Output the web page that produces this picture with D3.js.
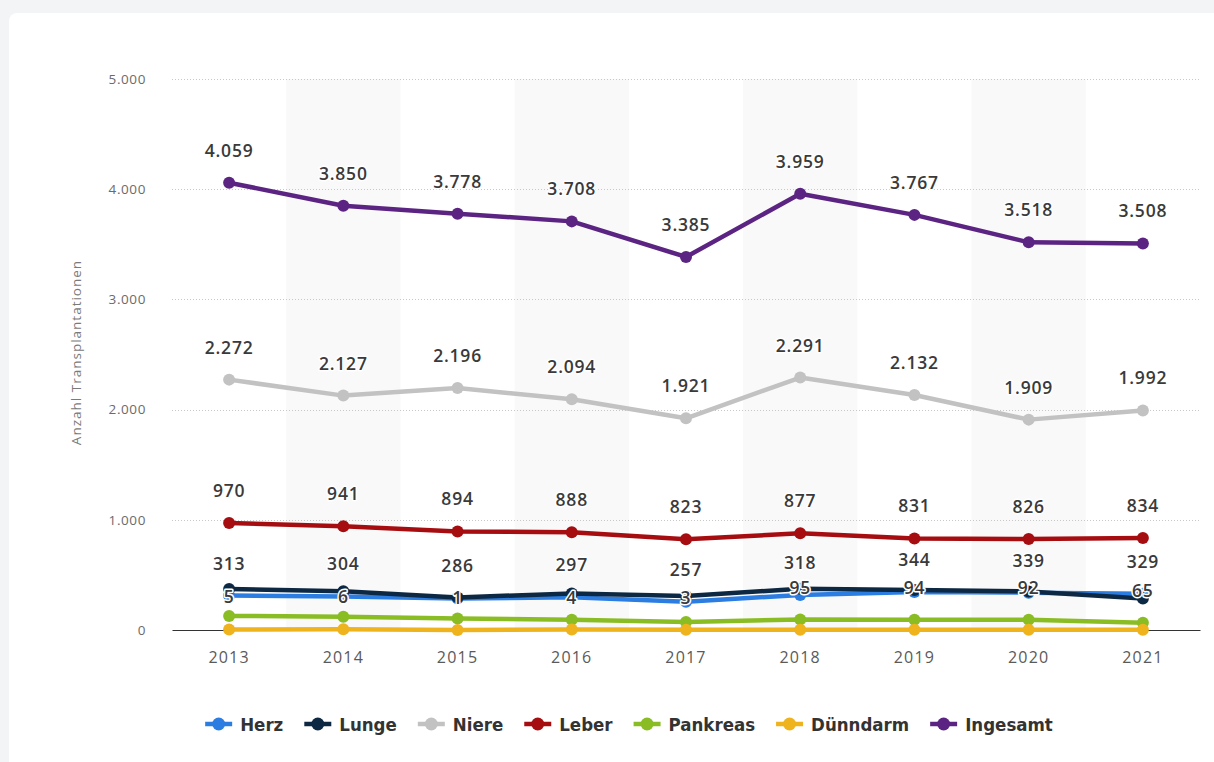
<!DOCTYPE html>
<html>
<head>
<meta charset="utf-8">
<script src="https://cdn.jsdelivr.net/npm/d3@7"></script>
<style>
  html, body { margin: 0; padding: 0; background: #f3f4f6; }
  #chart { position: absolute; left: 0; top: 0; width: 1214px; height: 762px; }
  text { font-family: "Open Sans", "DejaVu Sans", sans-serif; }
</style>
</head>
<body>
<div id="chart"></div>
<script>
// ─── data ────────────────────────────────────────────────────────────────────
const years = ["2013", "2014", "2015", "2016", "2017", "2018", "2019", "2020", "2021"];

const herz      = [313, 304, 286, 297, 257, 318, 344, 339, 329];
const lunge     = [371, 352, 296, 331, 308, 375, 364, 350, 285];
const niere     = [2272, 2127, 2196, 2094, 1921, 2291, 2132, 1909, 1992];
const leber     = [970, 941, 894, 888, 823, 877, 831, 826, 834];
const pankreas  = [128, 120, 105, 94, 73, 95, 94, 92, 65];
const duenndarm = [5, 6, 1, 4, 3, 3, 2, 2, 3];
const ingesamt  = [4059, 3850, 3778, 3708, 3385, 3959, 3767, 3518, 3508];

const yTicks = [0, 1000, 2000, 3000, 4000, 5000];

// which years carry a visible value label (the others are hidden by overlap)
const allYears = years;
const noYears = [];
const pankreasLabelYears = ["2018", "2019", "2020", "2021"];
const duenndarmLabelYears = ["2013", "2014", "2015", "2016", "2017"];

const series = [
  { name: "Herz",     values: herz,      color: "#2b7de1", labels: allYears },
  { name: "Lunge",    values: lunge,     color: "#0d2843", labels: noYears },
  { name: "Niere",    values: niere,     color: "#c2c2c2", labels: allYears },
  { name: "Leber",    values: leber,     color: "#a60d10", labels: allYears },
  { name: "Pankreas", values: pankreas,  color: "#8abd24", labels: pankreasLabelYears },
  { name: "Dünndarm", values: duenndarm, color: "#efb31d", labels: duenndarmLabelYears },
  { name: "Ingesamt", values: ingesamt,  color: "#5c2482", labels: allYears }
];

// ─── layout ─────────────────────────────────────────────────────────────────
const W = 1214, H = 762;
const plotLeft = 172, plotRight = 1200, plotTop = 79, plotBottom = 630;

const de = d3.formatLocale({ decimal: ",", thousands: ".", grouping: [3], currency: ["", " €"] });
const fmt = de.format(",d");

const svg = d3.select("#chart").append("svg")
  .attr("width", W).attr("height", H)
  .attr("viewBox", `0 0 ${W} ${H}`);

// card
svg.append("rect")
  .attr("x", 9).attr("y", 13).attr("width", W + 20).attr("height", H + 20)
  .attr("rx", 8).attr("fill", "#ffffff");

const x = d3.scaleBand().domain(years).range([plotLeft, plotRight]);
const cx = d => x(d) + x.bandwidth() / 2;
const y = d3.scaleLinear().domain([0, 5000]).range([plotBottom, plotTop]);

// alternating column bands
svg.append("g").selectAll("rect")
  .data(years.filter((d, i) => i % 2 === 1))
  .join("rect")
  .attr("x", d => x(d)).attr("y", plotTop)
  .attr("width", x.bandwidth()).attr("height", plotBottom - plotTop)
  .attr("fill", "#f9f9fa");

// grid
svg.append("g").selectAll("line")
  .data(yTicks.filter(d => d > 0))
  .join("line")
  .attr("x1", plotLeft).attr("x2", plotRight)
  .attr("y1", d => Math.round(y(d)) + 0.5).attr("y2", d => Math.round(y(d)) + 0.5)
  .attr("stroke", "#c8c8c8").attr("stroke-dasharray", "1,2");

// y axis labels
const yAxis = svg.append("g")
  .attr("transform", `translate(${plotLeft},0)`)
  .call(d3.axisLeft(y).tickValues(yTicks).tickFormat(fmt).tickSize(0).tickPadding(26));
yAxis.select(".domain").remove();
yAxis.selectAll("text")
  .attr("fill", "#6b6b6b").style("font-size", "13.5px").style("letter-spacing", "0.6px")
  .style("font-family", "'Open Sans', sans-serif");

// x axis
const xAxis = svg.append("g")
  .attr("transform", `translate(0,${plotBottom})`)
  .call(d3.axisBottom(x).tickSize(0).tickPadding(22));
xAxis.select(".domain").attr("stroke", "#333").attr("stroke-width", 1.2);
xAxis.selectAll("text")
  .attr("fill", "#5a5a5a").style("font-size", "16px").style("letter-spacing", "1.2px")
  .style("font-family", "'Open Sans', sans-serif");

// axis title
svg.append("text")
  .attr("transform", `translate(81,${(plotTop + plotBottom) / 2 - 2}) rotate(-90)`)
  .attr("text-anchor", "middle")
  .attr("fill", "#7a7a7a").style("font-size", "13.5px").style("letter-spacing", "1px")
  .text("Anzahl Transplantationen");

// lines and markers
const line = d3.line().x((d, i) => cx(years[i])).y(d => y(d));
const lines = svg.append("g");
series.forEach(s => {
  const gS = lines.append("g");
  gS.append("path")
    .attr("d", line(s.values))
    .attr("fill", "none").attr("stroke", s.color)
    .attr("stroke-width", 4.5).attr("stroke-linejoin", "round").attr("stroke-linecap", "round");
  gS.selectAll("circle")
    .data(s.values)
    .join("circle")
    .attr("cx", (d, i) => cx(years[i])).attr("cy", d => y(d))
    .attr("r", 6).attr("fill", s.color);
});

// value labels
const labels = svg.append("g");
series.forEach(s => {
  const pts = s.values.map((v, i) => ({ v, year: years[i] })).filter(p => s.labels.includes(p.year));
  labels.selectAll(null)
    .data(pts)
    .join("text")
    .attr("x", p => cx(p.year)).attr("y", p => y(p.v) - 26)
    .attr("text-anchor", "middle")
    .attr("fill", "#3a3a3a").attr("stroke", "#fff").attr("stroke-width", 3)
    .attr("paint-order", "stroke").attr("stroke-linejoin", "round")
    .style("font-size", "17.5px").style("font-weight", 600).style("letter-spacing", "0.8px")
    .text(p => fmt(p.v));
});

// legend
const legend = svg.append("g").attr("transform", "translate(0,724)");
let lx = 0;
const items = [];
const gap = 21;
series.forEach(s => {
  const it = legend.append("g");
  it.append("line").attr("x1", 0).attr("x2", 27).attr("y1", 0).attr("y2", 0)
    .attr("stroke", s.color).attr("stroke-width", 4.5);
  it.append("circle").attr("cx", 13.5).attr("cy", 0).attr("r", 6.5).attr("fill", s.color);
  const t = it.append("text").attr("x", 35).attr("y", 6.5)
    .attr("fill", "#333")
    .style("font-family", "'Liberation Sans Narrow', 'DejaVu Sans Condensed', sans-serif")
    .style("font-size", "18.5px").style("font-weight", 600)
    .text(s.name);
  const w = 35 + t.node().getComputedTextLength();
  items.push({ it, x: lx });
  lx += w + gap;
});
const totalW = lx - gap;
const startX = 629 - totalW / 2;
items.forEach(d => d.it.attr("transform", `translate(${startX + d.x},0)`));
</script>
</body>
</html>
